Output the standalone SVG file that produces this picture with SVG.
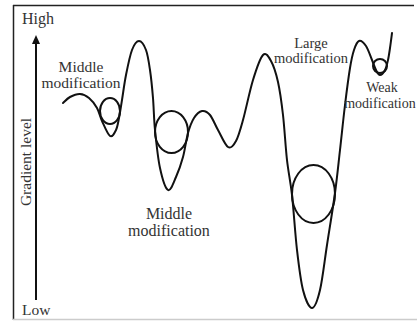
<svg xmlns="http://www.w3.org/2000/svg" width="417" height="321" viewBox="0 0 417 321">
<style>
.t{font-family:"Liberation Serif","Times New Roman",serif;fill:#333;font-size:15.5px}
.m{text-anchor:middle}
.s{font-size:14.5px}
.ln{fill:none;stroke:#111;stroke-width:2;stroke-linecap:round;stroke-linejoin:round}
</style>
<rect width="417" height="321" fill="#fff"/>
<g id="frame">
<path d="M13,5.5 H414" stroke="#222" stroke-width="1.5" fill="none"/>
<path d="M13.5,5 V320" stroke="#222" stroke-width="1.5" fill="none"/>
<path d="M13,319.5 H417" stroke="#ccc" stroke-width="1.5" fill="none"/>
</g>
<g id="axis">
<path d="M36,300 V44" stroke="#111" stroke-width="2" fill="none"/>
<path d="M36,35 L40,44 L32,44 Z" fill="#111"/>
<text class="t" x="22" y="24" style="font-size:16px">High</text>
<text class="t" x="22" y="315">Low</text>
<text class="t m" transform="translate(31,162) rotate(-90)">Gradient level</text>
</g>
<g id="landscape">
<path class="ln" d="M63,103 C64.17,102 67.170,98.5 70,97 C72.83,95.5 76.83,93.83 80,94 C83.17,94.17 86.17,95.67 89,98 C91.83,100.33 94.83,104.17 97,108 C99.17,111.83 99.83,116.33 102,121 C104.17,125.67 107.67,134.5 110,136 C112.33,137.5 114.5,133 116,130 C117.5,127 118,123 119,118 C120,113 120.83,107.17 122,100 C123.17,92.83 124.33,83.33 126,75 C127.67,66.67 129.83,55.67 132,50 C134.17,44.33 136.67,41 139,41 C141.33,41 144.17,45.17 146,50 C147.83,54.83 148.83,62 150,70 C151.17,78 152.17,88 153,98 C153.83,108 153.83,118.33 155,130 C156.17,141.67 157.83,158 160,168 C162.17,178 165.33,188.5 168,190 C170.67,191.5 173.5,182.5 176,177 C178.5,171.5 181,164.33 183,157 C185,149.67 186.17,139.5 188,133 C189.83,126.5 191.67,121.67 194,118 C196.33,114.33 199.33,111.5 202,111 C204.67,110.5 207.33,111.83 210,115 C212.67,118.17 215,124.67 218,130 C221,135.33 225,145.17 228,147 C231,148.83 233.5,145.5 236,141 C238.5,136.5 240.17,130.17 243,120 C245.83,109.83 249.67,90.83 253,80 C256.33,69.17 260,58.17 263,55 C266,51.83 268.5,56.5 271,61 C273.5,65.5 276,73 278,82 C280,91 281.5,102 283,115 C284.5,128 285.5,146.67 287,160 C288.5,173.33 290.33,180 292,195 C293.67,210 295.17,234.17 297,250 C298.83,265.83 300.5,280.33 303,290 C305.5,299.67 309.17,308 312,308 C314.83,308 317.5,300.5 320,290 C322.5,279.5 324.5,261.17 327,245 C329.5,228.83 332.83,208.83 335,193 C337.17,177.17 338.33,164.67 340,150 C341.67,135.33 343.33,118.67 345,105 C346.67,91.33 348.5,77.17 350,68 C351.5,58.83 352.5,54.5 354,50 C355.5,45.5 357,41.67 359,41 C361,40.33 363.83,42.83 366,46 C368.17,49.17 370.33,56 372,60 C373.67,64 374.67,67.5 376,70 C377.33,72.5 378.5,75 380,75 C381.5,75 383.67,72.5 385,70 C386.33,67.5 387.17,63.67 388,60 C388.83,56.33 389.33,52.5 390,48 C390.67,43.5 391.67,35.5 392,33"/>
</g>
<g id="ball1"><ellipse class="ln" cx="110" cy="111" rx="10" ry="13"/></g>
<g id="ball2"><ellipse class="ln" cx="171.5" cy="132" rx="16.5" ry="21"/></g>
<g id="ball3"><ellipse class="ln" cx="313.5" cy="194" rx="21.5" ry="29"/></g>
<g id="ball4"><circle class="ln" cx="380" cy="66" r="7"/></g>
<g id="label1">
<text class="t m" x="81" y="72">Middle</text>
<text class="t m" x="81" y="88">modification</text>
</g>
<g id="label2">
<text class="t m" x="169" y="219" style="font-size:16px">Middle</text>
<text class="t m" x="169" y="236" style="font-size:16px">modification</text>
</g>
<g id="label3">
<text class="t m s" x="311" y="48">Large</text>
<text class="t m s" x="311" y="63">modification</text>
</g>
<g id="label4">
<text class="t m" x="382" y="92" style="font-size:14px">Weak</text>
<text class="t m" x="380" y="108" style="font-size:14px">modification</text>
</g>
</svg>
